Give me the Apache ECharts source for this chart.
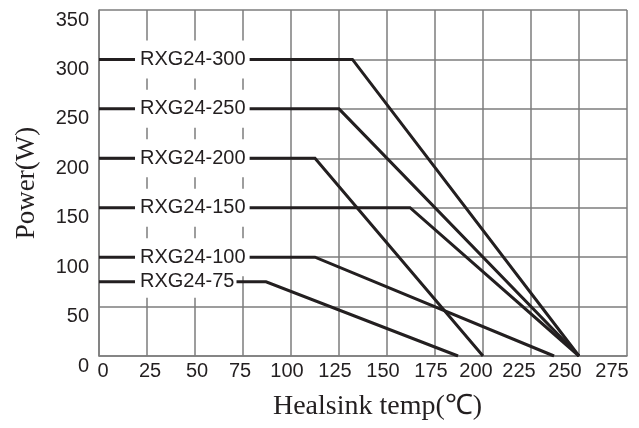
<!DOCTYPE html>
<html>
<head>
<meta charset="utf-8">
<script src="https://cdn.jsdelivr.net/npm/echarts@6/dist/echarts.min.js"></script>
<style>html,body{margin:0;padding:0;background:#fff}#c{width:639px;height:428px}</style>
</head>
<body>
<div id="c"></div>
<script>
// ---- data ----
const seriesNames = ['RXG24-300', 'RXG24-250', 'RXG24-200', 'RXG24-150', 'RXG24-100', 'RXG24-75'];
const ratedPower = [300, 250, 200, 150, 100, 75];        // W, flat part
const kneeTemp   = [132, 125, 112.5, 162, 112.5, 87];    // °C where derating starts
const zeroTemp   = [250, 250, 200, 250, 237, 187];       // °C where power reaches 0
const xTicks = [0, 25, 50, 75, 100, 125, 150, 175, 200, 225, 250, 275];
const yTicks = [0, 50, 100, 150, 200, 250, 300, 350];

// ---- style ----
const ink = '#231f20';
const gridCol = '#7d7d7d';
const xLabelShift = [4, 3, 2, -3, -4, -4, -4, -4, -7, -12, -14, -15];
const labelPad = [[9, 4, 9, 5], [9, 4, 9, 5], [9, 4, 9, 5], [9, 4, 9, 5], [9, 4, 9, 5], [2, 2, 10, 5]];

const rich = {};
xLabelShift.forEach((d, i) => {
  rich['s' + i] = {
    fontSize: 20, fontFamily: 'Liberation Sans, Arial', color: ink,
    padding: d >= 0 ? [0, 0, 0, 2 * d] : [0, -2 * d, 0, 0]
  };
});

const series = seriesNames.map((name, i) => ({
  name: name,
  type: 'line',
  showSymbol: true,
  symbol: 'circle',
  symbolSize: 0.01,
  itemStyle: { color: 'rgba(0,0,0,0)' },
  lineStyle: { color: ink, width: 3, cap: 'butt', join: 'miter' },
  emphasis: { disabled: true },
  silent: true,
  z: 3,
  data: [
    {
      value: [xTicks[0], ratedPower[i]],
      label: {
        show: true,
        position: 'right',
        distance: 36,
        formatter: name,
        fontSize: 20,
        lineHeight: 20,
        fontFamily: 'Liberation Sans, Arial',
        color: ink,
        backgroundColor: '#ffffff',
        padding: labelPad[i]
      }
    },
    [kneeTemp[i], ratedPower[i]],
    [zeroTemp[i], 0]
  ]
}));

const chart = echarts.init(document.getElementById('c'), null, { renderer: 'canvas' });
chart.setOption({
  animation: false,
  backgroundColor: '#ffffff',
  grid: { left: 99, right: 12, top: 10, bottom: 72, show: false },
  xAxis: {
    type: 'value',
    min: xTicks[0], max: xTicks[xTicks.length - 1], interval: 25,
    name: 'Healsink temp(℃)',
    nameLocation: 'middle',
    nameGap: 37,
    nameTextStyle: { fontSize: 28, fontFamily: 'Liberation Serif, Times New Roman, serif', color: ink, padding: [0, 0, 0, 29] },
    axisLine: { show: true, lineStyle: { color: gridCol, width: 1.5 } },
    axisTick: { show: false },
    splitLine: { show: true, lineStyle: { color: gridCol, width: 1.5 } },
    axisLabel: {
      margin: 5,
      formatter: (v) => '{s' + xTicks.indexOf(v) + '|' + v + '}',
      rich: rich
    }
  },
  yAxis: {
    type: 'value',
    min: yTicks[0], max: yTicks[yTicks.length - 1], interval: 50,
    name: 'Power(W)',
    nameLocation: 'middle',
    nameRotate: 90,
    nameGap: 59,
    nameTextStyle: { fontSize: 27, fontFamily: 'Liberation Serif, Times New Roman, serif', color: ink },
    axisLine: { show: true, lineStyle: { color: gridCol, width: 1.5 } },
    axisTick: { show: false },
    splitLine: { show: true, lineStyle: { color: gridCol, width: 1.5 } },
    axisLabel: {
      margin: 10,
      fontSize: 20,
      fontFamily: 'Liberation Sans, Arial',
      color: ink,
      verticalAlign: 'top'
    }
  },
  series: series
});
</script>
</body>
</html>
